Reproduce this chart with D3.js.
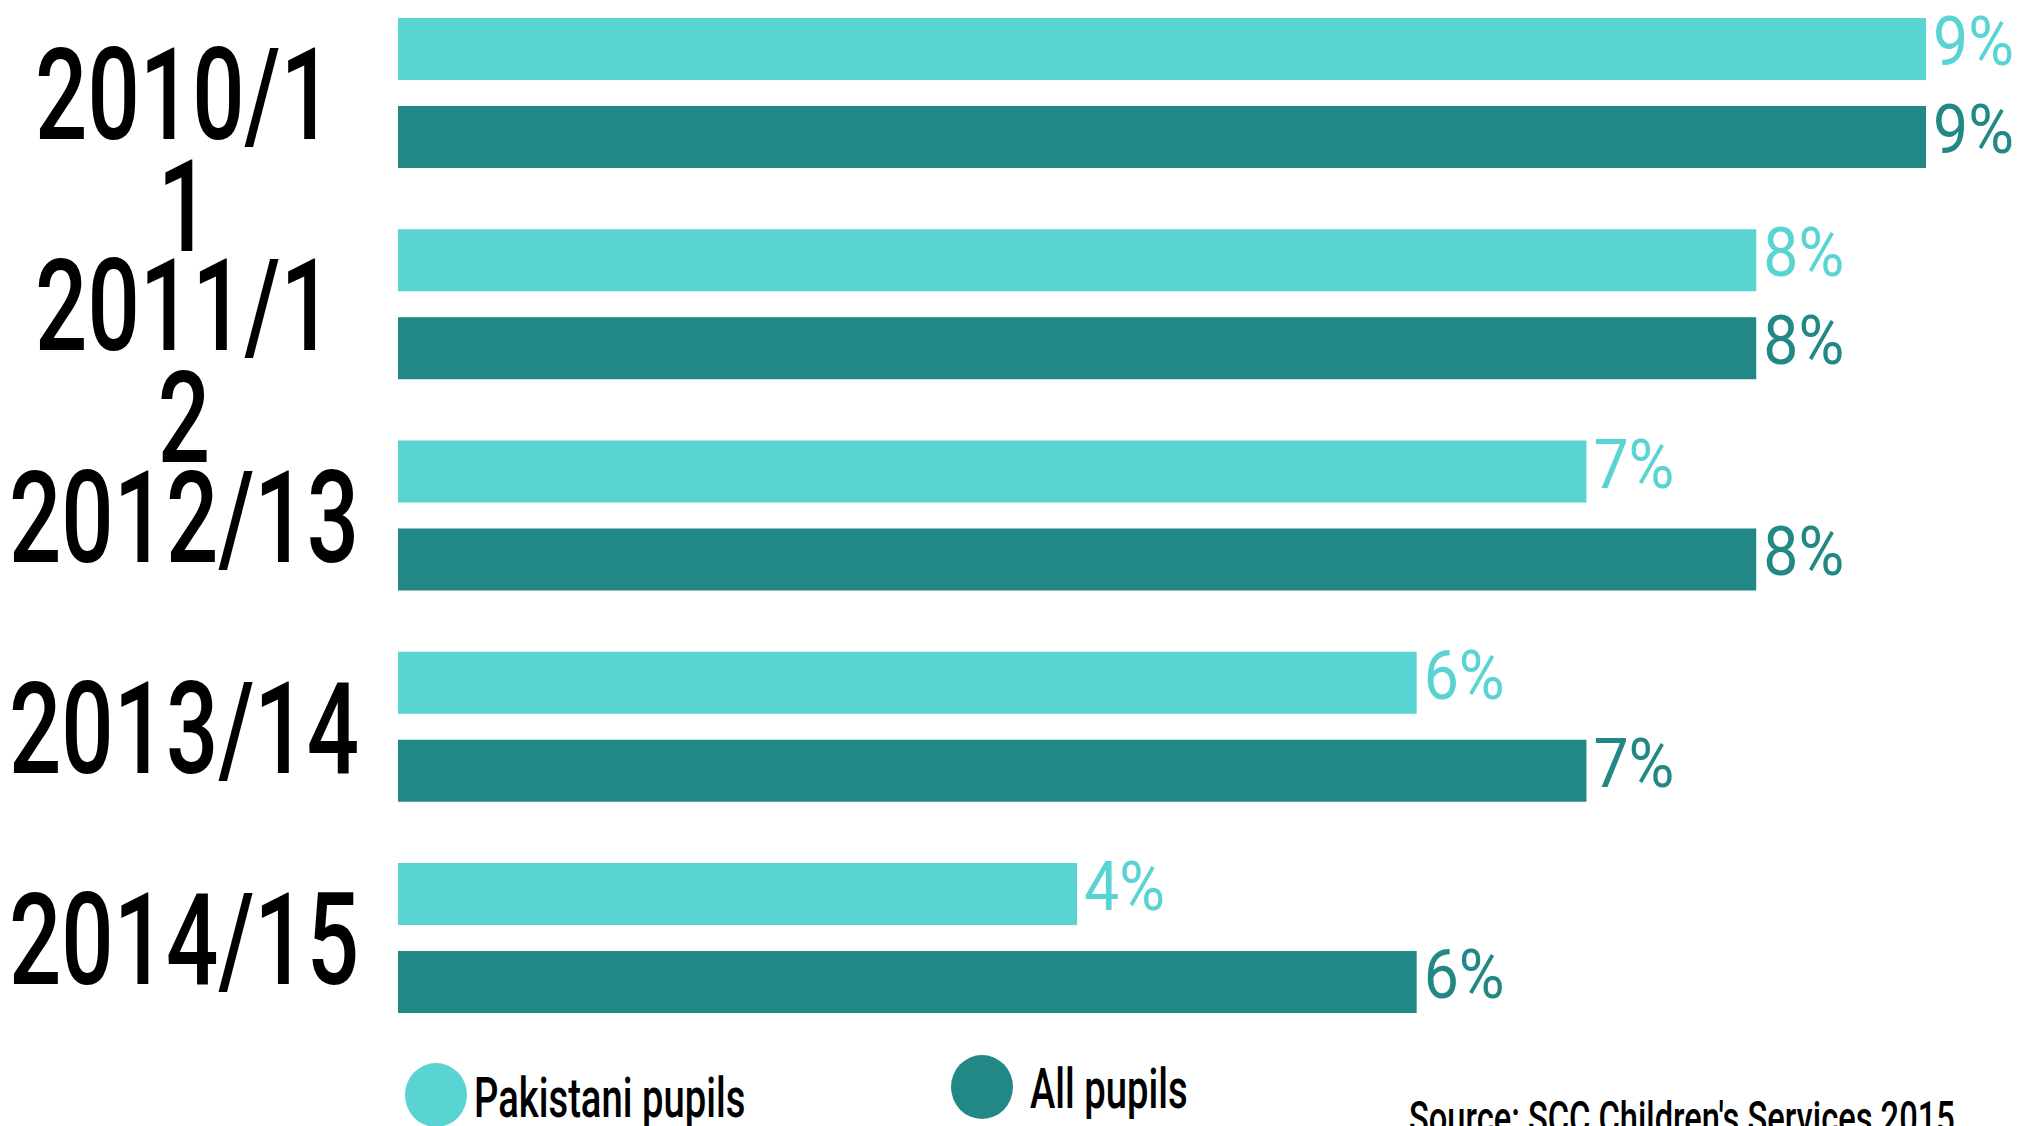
<!DOCTYPE html>
<html>
<head>
<meta charset="utf-8">
<script src="https://cdn.jsdelivr.net/npm/d3@7"></script>
<style>
  body { margin: 0; background: #fff; }
  svg { display: block; }
  text { font-family: Roboto, "Open Sans", sans-serif; }
</style>
</head>
<body>
<svg width="2022" height="1126"></svg>
<script>
const WIDTH = 2022
const HEIGHT = 1126

const years = ['2010/11', '2011/12', '2012/13', '2013/14', '2014/15']
const pakistaniPupils = [9, 8, 7, 6, 4]
const allPupils = [9, 8, 8, 7, 6]
const seriesNames = ['Pakistani pupils', 'All pupils']
const sourceNote = "Source: SCC Children's Services 2015"
// in the original the first two year labels wrap inside their box
const yearBreaks = [6, 6, 0, 0, 0]

const LIGHT = '#59d4d3'
const DARK = '#228886'
const CONDENSE = 0.695

const svg = d3.select('svg')

const x = d3.scaleLinear().domain([0, 9]).range([398, 1926])
const y = d3.scaleBand().domain(years).range([18, 1013]).paddingInner(0.29)
const ySub = d3.scaleBand().domain(seriesNames).range([0, y.bandwidth()]).paddingInner(0.295)
const color = d3.scaleOrdinal().domain(seriesNames).range([LIGHT, DARK])

const rows = years.map((year, i) => ({
    year: year,
    index: i,
    values: [
        {series: seriesNames[0], value: pakistaniPupils[i]},
        {series: seriesNames[1], value: allPupils[i]}
    ]
}))

const group = svg.append('g')
    .selectAll('g')
    .data(rows)
    .enter().append('g')
    .attr('transform', d => `translate(0,${y(d.year)})`)

group.selectAll('rect')
    .data(d => d.values)
    .enter().append('rect')
    .attr('x', x(0))
    .attr('y', d => ySub(d.series))
    .attr('width', d => x(d.value) - x(0))
    .attr('height', ySub.bandwidth())
    .attr('fill', d => color(d.series))

group.selectAll('text.value')
    .data(d => d.values)
    .enter().append('text')
    .attr('class', 'value')
    .attr('transform', d => `translate(${x(d.value) + 7},${ySub(d.series) + 47}) scale(0.92,1)`)
    .attr('font-size', 68)
    .attr('fill', d => color(d.series))
    .text(d => d.value + '%')

// year labels, first line centred on the band, extra lines run below
group.append('text')
    .attr('transform', `translate(184,${y.bandwidth() / 2 + 46}) scale(0.72,1)`)
    .attr('text-anchor', 'middle')
    .attr('font-size', 128)
    .attr('font-weight', 500)
    .attr('fill', '#000')
    .each(function(d) {
        const b = yearBreaks[d.index]
        const lines = b ? [d.year.slice(0, b), d.year.slice(b)] : [d.year]
        d3.select(this).selectAll('tspan')
            .data(lines)
            .enter().append('tspan')
            .attr('x', 0)
            .attr('dy', (l, j) => j ? 112 : 0)
            .text(l => l)
    })

// legend
const legendItems = [
    {name: seriesNames[0], cx: 436, cy: 1095, tx: 474, ty: 1117},
    {name: seriesNames[1], cx: 982, cy: 1087, tx: 1030, ty: 1108}
]

const legend = svg.append('g')
    .selectAll('g')
    .data(legendItems)
    .enter().append('g')

legend.append('ellipse')
    .attr('cx', d => d.cx)
    .attr('cy', d => d.cy)
    .attr('rx', 31)
    .attr('ry', 32)
    .attr('fill', d => color(d.name))

legend.append('text')
    .attr('transform', d => `translate(${d.tx},${d.ty}) scale(${CONDENSE},1)`)
    .attr('font-size', 55)
    .attr('font-weight', 500)
    .attr('fill', '#000')
    .text(d => d.name)

svg.append('text')
    .attr('transform', `translate(1409,1134) scale(${CONDENSE},1)`)
    .attr('font-size', 47)
    .attr('font-weight', 500)
    .attr('fill', '#000')
    .text(sourceNote)
</script>
</body>
</html>
